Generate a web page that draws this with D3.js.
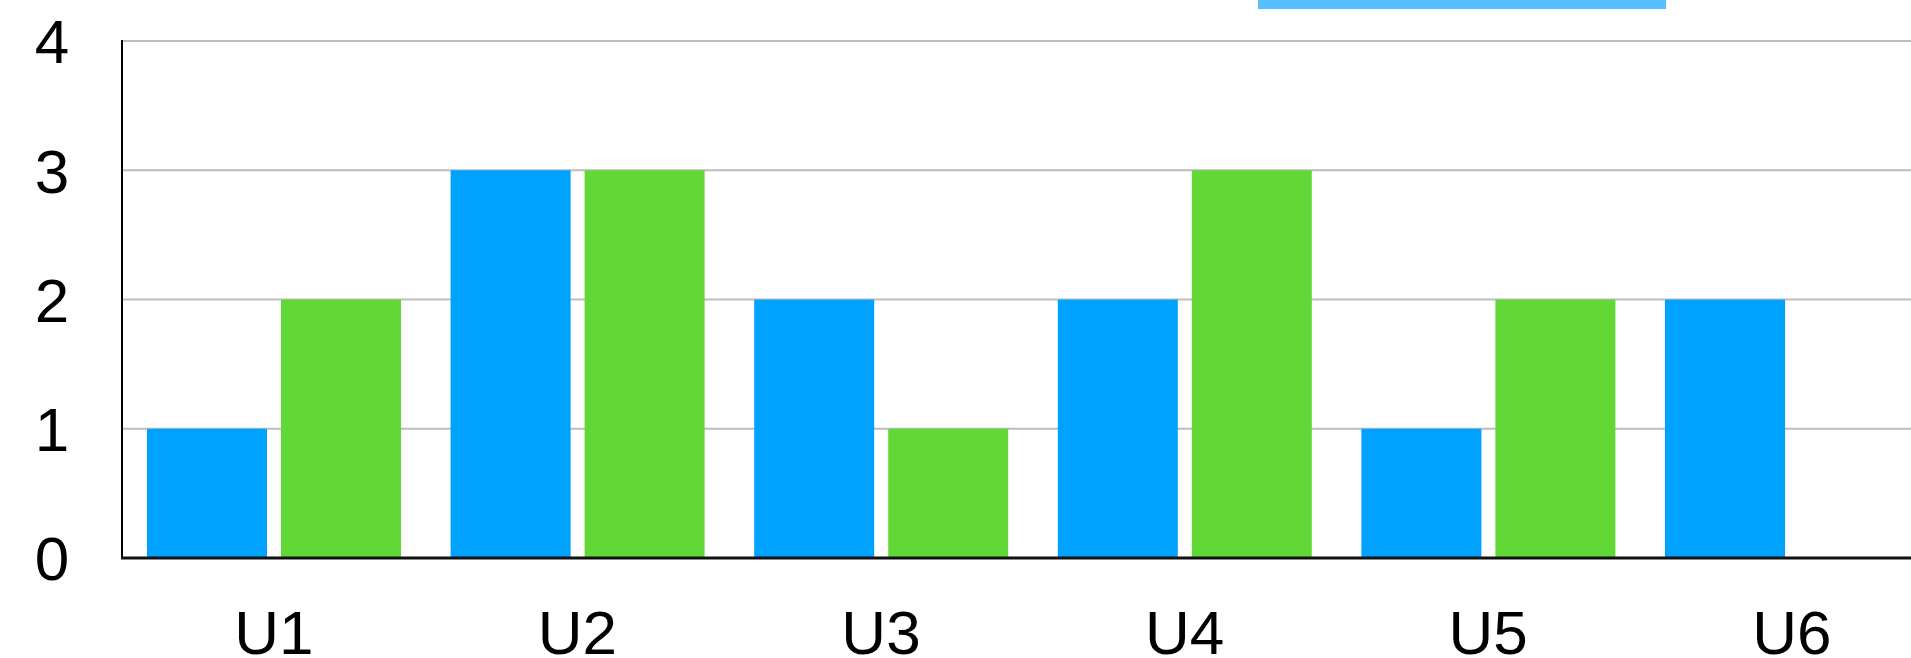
<!DOCTYPE html>
<html>
<head>
<meta charset="utf-8">
<script src="https://cdn.jsdelivr.net/npm/d3@7"></script>
<style>
  html, body { margin: 0; padding: 0; background: #fff; overflow: hidden; }
  svg { display: block; }
  text { font-family: "Liberation Sans", Arial, Helvetica, sans-serif; fill: #000; }
</style>
</head>
<body>
<svg id="chart" width="1911" height="658"></svg>
<script>
// Categories and the two series drawn per category
const categories = ["U1", "U2", "U3", "U4", "U5", "U6"];
const seriesNames = ["A", "B"];
const seriesA = [1, 3, 2, 2, 1, 2];
const seriesB = [2, 3, 1, 3, 2, 0];
const yTicks = [0, 1, 2, 3, 4];

const colors = { A: "#00A2FF", B: "#61D836" };

const W = 1911, H = 658;
const plotLeft = 122, plotTop = 41, plotBottom = 558;
const step = 303.6;

const svg = d3.select("#chart");

const x = d3.scaleBand()
  .domain(categories)
  .range([plotLeft, plotLeft + step * categories.length])
  .paddingInner(0).paddingOuter(0);

const xSub = d3.scaleBand()
  .domain(seriesNames)
  .range([25, 279])
  .paddingInner(0.1045);

const y = d3.scaleLinear().domain([0, 4]).range([plotBottom, plotTop]);

// Horizontal gridlines
svg.append("g")
  .selectAll("line")
  .data(yTicks.filter(t => t > 0))
  .join("line")
  .attr("x1", plotLeft).attr("x2", W)
  .attr("y1", d => y(d)).attr("y2", d => y(d))
  .attr("stroke", "#bdbdbd")
  .attr("stroke-width", 2);

// Legend swatch strip at the top
svg.append("rect")
  .attr("x", 1258).attr("y", 0)
  .attr("width", 408).attr("height", 9)
  .attr("fill", "#56BFFF");

// Bars
const rows = categories.map((c, i) => ({ cat: c, A: seriesA[i], B: seriesB[i] }));
const groups = svg.append("g")
  .selectAll("g")
  .data(rows)
  .join("g")
  .attr("transform", d => `translate(${x(d.cat)},0)`);

groups.selectAll("rect")
  .data(d => seriesNames.map(k => ({ key: k, value: d[k] })))
  .join("rect")
  .attr("x", d => xSub(d.key))
  .attr("width", xSub.bandwidth())
  .attr("y", d => y(d.value))
  .attr("height", d => y(0) - y(d.value))
  .attr("fill", d => colors[d.key]);

// Y axis line and labels
svg.append("line")
  .attr("x1", plotLeft).attr("x2", plotLeft)
  .attr("y1", plotTop - 1).attr("y2", plotBottom + 1)
  .attr("stroke", "#000").attr("stroke-width", 2);

svg.append("g")
  .selectAll("text")
  .data(yTicks)
  .join("text")
  .attr("x", 52)
  .attr("y", d => y(d))
  .attr("dy", "0.36em")
  .attr("text-anchor", "middle")
  .attr("font-size", 62)
  .text(d => d);

// X axis line and labels
svg.append("line")
  .attr("x1", plotLeft - 1).attr("x2", W)
  .attr("y1", plotBottom).attr("y2", plotBottom)
  .attr("stroke", "#111").attr("stroke-width", 3);

svg.append("g")
  .selectAll("text")
  .data(categories)
  .join("text")
  .attr("x", d => x(d) + x.bandwidth() / 2)
  .attr("y", 654)
  .attr("text-anchor", "middle")
  .attr("font-size", 62)
  .text(d => d);
</script>
</body>
</html>
